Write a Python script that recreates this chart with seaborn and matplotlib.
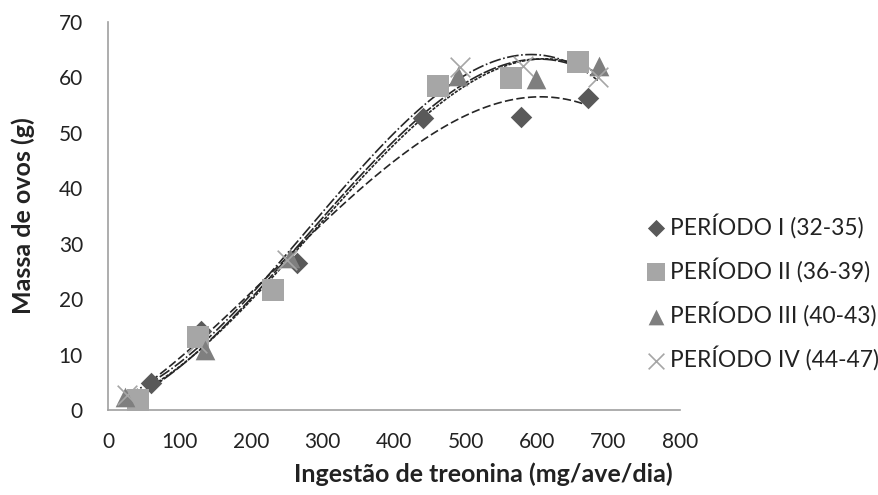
import matplotlib
matplotlib.use("Agg")
import matplotlib.pyplot as plt
import seaborn as sns
import pandas as pd
import numpy as np

# ---- data ----
labels = ["PERÍODO I (32-35)", "PERÍODO II (36-39)", "PERÍODO III (40-43)", "PERÍODO IV (44-47)"]
x_p1 = [60, 130, 265, 441, 577, 671]
y_p1 = [4.8, 14.2, 26.6, 52.6, 52.8, 56.2]
x_p2 = [42, 126, 231, 461, 563, 657]
y_p2 = [1.8, 13.2, 21.7, 58.5, 59.9, 62.7]
x_p3 = [24, 136, 255, 489, 598, 687]
y_p3 = [2.4, 10.8, 27.5, 60.2, 59.7, 62.0]
x_p4 = [27, 125, 250, 492, 580, 685]
y_p4 = [2.7, 12.0, 27.0, 61.9, 62.0, 60.0]
x_ticks = [0, 100, 200, 300, 400, 500, 600, 700, 800]
y_ticks = [0, 10, 20, 30, 40, 50, 60, 70]

series = [(x_p1, y_p1), (x_p2, y_p2), (x_p3, y_p3), (x_p4, y_p4)]
df = pd.concat([pd.DataFrame({"x": xs, "y": ys, "periodo": lab})
                for (xs, ys), lab in zip(series, labels)], ignore_index=True)

sns.set_theme(style="white")
plt.rcParams["font.family"] = ["Lato", "DejaVu Sans"]

fig = plt.figure(figsize=(8.79, 4.95), dpi=100)
ax = fig.add_axes([108/879, 1-410/495, (680-108)/879, (410-22)/495])

markers = {labels[0]: "D", labels[1]: "s", labels[2]: "^", labels[3]: "x"}
colors = {labels[0]: "#595959", labels[1]: "#a6a6a6", labels[2]: "#7f7f7f", labels[3]: "#a6a6a6"}
sizes = {labels[0]: 120, labels[1]: 240, labels[2]: 200, labels[3]: 200}
dashes = [(0, (5, 2)), (0, (8, 1.2)), (0, (2, 0.8)), (0, (7, 1.5, 1, 1.5))]

# trendlines (3rd-order polynomial, as in the original spreadsheet)
for (lab, ls) in zip(labels, dashes):
    sns.regplot(data=df[df.periodo == lab], x="x", y="y", order=3, ci=None,
                scatter=False, truncate=True, ax=ax,
                line_kws=dict(color="#262626", lw=1.2, linestyle=ls))

for lab in labels:
    sub = df[df.periodo == lab]
    kw = dict(linewidth=0) if markers[lab] != "x" else dict(linewidth=1.2)
    sns.scatterplot(data=sub, x="x", y="y", marker=markers[lab], color=colors[lab],
                    s=sizes[lab], ax=ax, label=lab, zorder=3, **kw)

ax.set_xlim(0, 800)
ax.set_ylim(0, 70)
ax.set_xticks(x_ticks)
ax.set_yticks(y_ticks)
ax.tick_params(axis="both", length=0, labelsize=15, colors="#222222")
ax.tick_params(axis="x", pad=16)
ax.tick_params(axis="y", pad=18)
for s in ["top", "right"]:
    ax.spines[s].set_visible(False)
for s in ["left", "bottom"]:
    ax.spines[s].set_color("#a0a0a0")
    ax.spines[s].set_linewidth(1.2)

ax.set_xlabel("Ingestão de treonina (mg/ave/dia)", fontsize=18, fontweight="bold", color="#222222")
ax.xaxis.set_label_coords(0.656, -0.135)
ax.set_ylabel("Massa de ovos (g)", fontsize=18, fontweight="bold", color="#222222")
ax.yaxis.set_label_coords(-0.128, 0.5)

leg = ax.legend(loc="center left", bbox_to_anchor=(0.71, 0.41), bbox_transform=fig.transFigure,
                frameon=False, fontsize=16.4, handletextpad=0.1, labelspacing=0.85,
                markerscale=0.8, handlelength=1.0)
for t in leg.get_texts():
    t.set_color("#222222")

fig.savefig("out.png", dpi=100)
